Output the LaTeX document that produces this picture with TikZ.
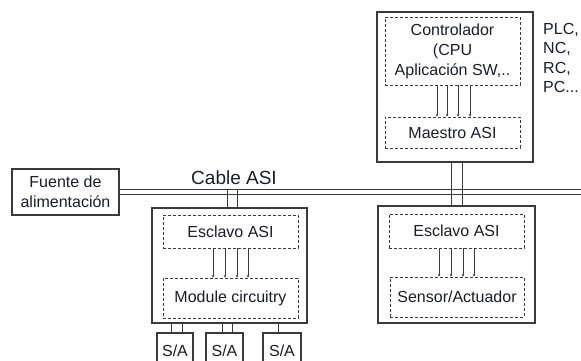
\documentclass[tikz,border=0pt]{standalone}
\usepackage{fontspec}
\setmainfont{Liberation Sans}
\usetikzlibrary{arrows.meta}
\definecolor{ln}{HTML}{3A3A3A}
\definecolor{tx}{HTML}{1C1C2A}
\tikzset{
  box/.style={draw=ln, line width=1.1pt, inner sep=0pt, align=center, text=tx, font=\fontsize{16}{20}\selectfont},
  dbox/.style={draw=ln, line width=0.9pt, dash pattern=on 3pt off 2pt, inner sep=0pt, align=center, text=tx, font=\fontsize{16}{20}\selectfont},
  wire/.style={draw=ln, line width=0.9pt},
  bus/.style={draw=ln, line width=0.9pt, -{Stealth[length=2.5pt,width=2.5pt]}},
  lbl/.style={inner sep=0pt, text=tx}
}
\begin{document}
\begin{tikzpicture}[x=1pt,y=-1pt]
\clip (0,0) rectangle (581,361);
\fill[white] (0,0) rectangle (581,361);
% controller
\node[box, minimum width=156pt, minimum height=150pt] (ctrl) at (455,87) {};
\node[dbox, minimum width=135pt, minimum height=68pt] (cpu) at (452.5,51) {Controlador\\(CPU\\Aplicación SW,..};
\node[dbox, minimum width=135pt, minimum height=31pt] (mae) at (452.5,132.5) {Maestro ASI};
\node[lbl, anchor=west, align=left, font=\fontsize{16}{19.5}\selectfont] (plc) at (543,58) {PLC,\\NC,\\RC,\\PC...};
\foreach \x in {437,447,458,470}{
  \draw[bus] (cpu.south -| \x,0) -- (mae.north -| \x,0);
}
% power supply and cable
\node[box, minimum width=107pt, minimum height=46pt] (fuente) at (65.5,192) {Fuente de\\alimentación};
\node[lbl, font=\fontsize{19}{22}\selectfont] (cablelbl) at (234,178) {Cable ASI};
\coordinate (cA) at (581,189.5);
\coordinate (cB) at (581,194);
\draw[wire] (fuente.east |- cA) -- (cA);
\draw[wire] (fuente.east |- cB) -- (cB);
% slave 1
\node[box, minimum width=155pt, minimum height=115pt] (sl1) at (229.5,265.5) {};
\node[dbox, minimum width=135pt, minimum height=33pt] (esc1) at (230.5,231.5) {Esclavo ASI};
\node[dbox, minimum width=135pt, minimum height=40pt] (mod1) at (230.5,298) {Module circuitry};
\foreach \x in {213,225,237,248}{
  \draw[bus] (esc1.south -| \x,0) -- (mod1.north -| \x,0);
}
\foreach \x in {227,237}{
  \draw[wire] (cA -| \x,0) -- (sl1.north -| \x,0);
}
% S/A
\node[box, minimum width=36pt, minimum height=35pt] (sa1) at (175,350.5) {S/A};
\node[box, minimum width=37pt, minimum height=35pt] (sa2) at (224.5,350.5) {S/A};
\node[box, minimum width=38pt, minimum height=35pt] (sa3) at (282,350.5) {S/A};
\foreach \x in {171,182}{ \draw[wire] (sl1.south -| \x,0) -- (sa1.north -| \x,0); }
\foreach \x in {222,232}{ \draw[wire] (sl1.south -| \x,0) -- (sa2.north -| \x,0); }
\draw[wire] (sl1.south -| 278,0) -- (sa3.north -| 278,0);
% slave 2
\node[box, minimum width=157pt, minimum height=117pt] (sl2) at (456.5,264.5) {};
\node[dbox, minimum width=135pt, minimum height=34pt] (esc2) at (456.5,231) {Esclavo ASI};
\node[dbox, minimum width=134pt, minimum height=40pt] (sens) at (457,297) {Sensor/Actuador};
\foreach \x in {439,451,463,474}{
  \draw[bus] (esc2.south -| \x,0) -- (sens.north -| \x,0);
}
\foreach \x in {451,462}{
  \draw[wire] (ctrl.south -| \x,0) -- (sl2.north -| \x,0);
}
\end{tikzpicture}
\end{document}
